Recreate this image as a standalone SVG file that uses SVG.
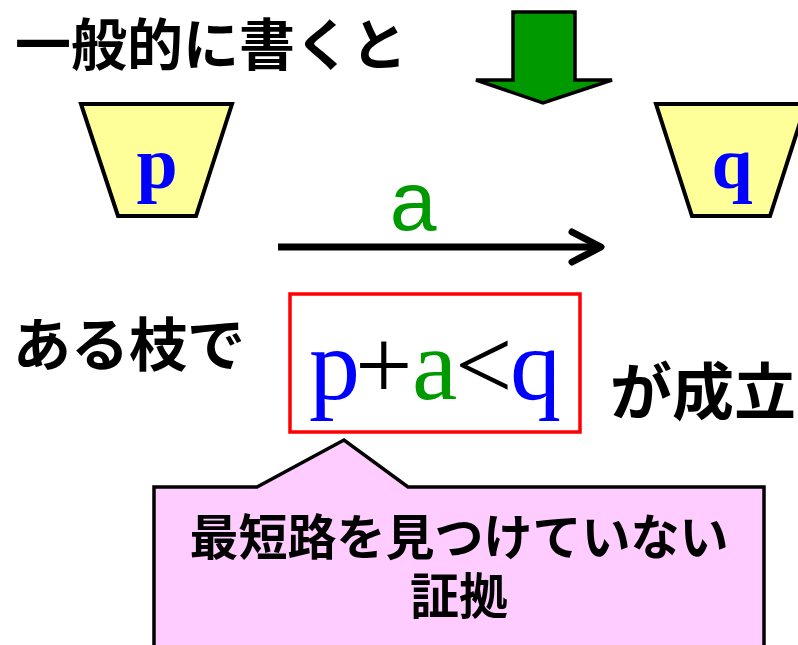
<svg xmlns="http://www.w3.org/2000/svg" width="798" height="645" viewBox="0 0 798 645">
<style>
.jp{font-family:"Noto Sans CJK JP","Noto Sans",sans-serif;font-weight:bold;fill:#000}
.node{fill:#FFFF99;stroke:#000;stroke-width:4;stroke-linejoin:miter}
.lbl{font-family:"Liberation Serif","Times New Roman",serif;font-weight:bold;fill:#0000FF;text-anchor:middle}
.f{font-family:"Liberation Serif","Times New Roman",serif;font-size:102px}
</style>
<rect width="798" height="645" fill="#fff"/>
<text class="jp" x="15" y="65" font-size="56">一般的に書くと</text>
<g id="down-arrow">
<polygon points="513,12 575,12 575,80 612,80 543,103 476,80 513,80" fill="#009900" stroke="#000" stroke-width="3.5"/>
</g>
<g id="node-p">
<polygon class="node" points="81,104 232,104 196,216 118,216"/>
<text class="lbl" x="157" y="188" font-size="74">p</text>
</g>
<g id="node-q">
<polygon class="node" points="656,104 806,104 770,216 692,216"/>
<text class="lbl" x="732" y="188" font-size="74">q</text>
</g>
<g id="connectors">
<line x1="278" y1="247" x2="600" y2="247" stroke="#000" stroke-width="7"/>
<polyline points="572,232 601,247 572,262" fill="none" stroke="#000" stroke-width="7" stroke-linecap="round" stroke-linejoin="round"/>
<text x="413" y="230" font-family="Liberation Sans, Arial, sans-serif" font-size="84" fill="#009900" text-anchor="middle">a</text>
</g>
<text class="jp" x="13" y="366" font-size="58">ある枝で</text>
<g id="formula">
<rect x="290" y="294" width="290" height="138" fill="#fff" stroke="#FF0000" stroke-width="3.5"/>
<text class="f" x="309" y="399" fill="#0000FF">p</text>
<text class="f" x="355" y="399" fill="#000">+</text>
<text class="f" x="412" y="399" fill="#009900">a</text>
<text class="f" x="455" y="399" fill="#000">&lt;</text>
<text class="f" x="510" y="399" fill="#0000FF">q</text>
</g>
<text class="jp" x="610" y="415" font-size="62">が成立</text>
<g id="callout">
<path d="M154,487 L257,487 L344,440 L408,487 L764,487 L764,650 L154,650 Z" fill="#FFCCFF" stroke="#000" stroke-width="3.5"/>
<text class="jp" font-size="49" text-anchor="middle"><tspan x="459" y="555">最短路を見つけていない</tspan><tspan x="459" y="614">証拠</tspan></text>
</g>
</svg>
